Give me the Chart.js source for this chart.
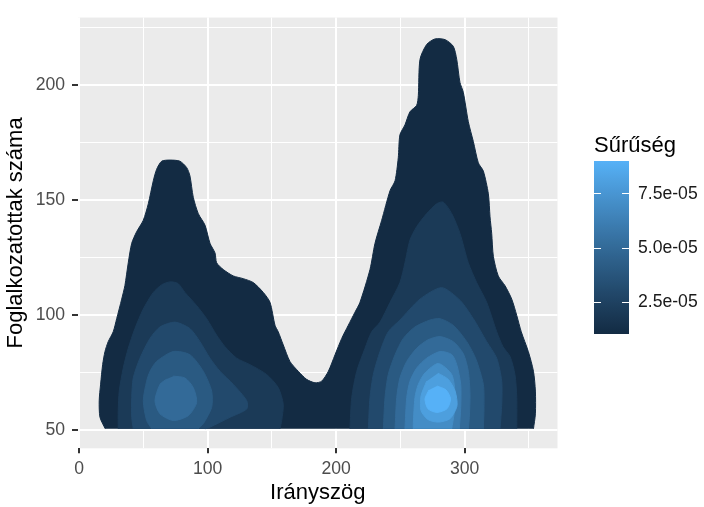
<!DOCTYPE html>
<html>
<head>
<meta charset="utf-8">
<script src="https://cdn.jsdelivr.net/npm/chart.js@4.4.1/dist/chart.umd.min.js"></script>
<style>
  html, body { margin: 0; padding: 0; background: #fff; }
</style>
</head>
<body>
<canvas id="densityChart" width="704" height="507"></canvas>
<script>
// density levels (contour breaks) and colour bar breaks
const densityLevels = [1e-5, 2e-5, 3e-5, 4e-5, 5e-5, 6e-5, 7e-5, 8e-5, 9e-5];
const legendBreaks = [2.5e-5, 5.0e-5, 7.5e-5];
const legendLabels = ['2.5e-05', '5.0e-05', '7.5e-05'];

// axis ticks
const xMajor = [0, 100, 200, 300];
const xMinor = [50, 150, 250, 350];
const yMajor = [50, 100, 150, 200];
const yMinor = [75, 125, 175, 225];
const xRange = [-0.9, 372.2];
const yRange = [41.9, 229.3];

// contour polygons [x, y], one per band piece
const level1Outer = [[20.3,50.4],[16.2,55.4],[15.6,62.6],[16.7,69.8],[18.3,78.4],[20.1,84.0],[22.6,88.3],[26.5,92.6],[29.2,98.3],[33.1,106.8],[35.6,112.7],[38.2,122.6],[40.9,131.1],[44.7,136.1],[49.9,141.1],[53.8,148.3],[57.7,158.3],[60.3,163.3],[64.2,166.8],[70.7,167.3],[78.4,166.8],[83.7,164.0],[86.2,160.4],[88.8,151.1],[92.7,144.0],[97.9,139.0],[101.8,131.1],[105.7,126.9],[107.0,122.6],[112.1,119.7],[119.9,116.9],[127.7,115.7],[135.5,114.0],[143.3,109.7],[148.5,105.4],[152.4,95.4],[154.9,92.6],[158.8,86.9],[164.0,79.7],[170.5,75.4],[177.0,71.9],[183.5,70.4],[188.7,71.1],[193.9,75.4],[199.1,82.6],[204.3,89.7],[209.4,95.4],[214.6,101.1],[218.5,105.4],[226.3,119.7],[230.2,131.1],[235.4,141.1],[241.9,154.0],[245.8,158.3],[248.3,168.3],[249.6,178.3],[253.5,182.6],[257.4,188.3],[262.6,191.1],[263.9,195.4],[265.2,211.1],[270.4,217.6],[276.9,220.0],[284.7,219.7],[291.1,216.8],[293.8,211.1],[296.3,201.1],[298.9,196.8],[302.8,184.0],[306.7,175.4],[310.6,166.1],[314.5,162.5],[318.4,152.6],[319.7,142.6],[321.0,135.4],[322.3,125.4],[326.1,116.9],[331.4,112.6],[336.6,106.8],[340.5,99.7],[344.0,92.6],[349.5,84.0],[353.5,75.4],[355.0,66.8],[355.0,56.9],[353.5,50.4]];
const level2Left = [[30.4,50.4],[30.4,58.3],[31.2,66.8],[34.3,76.8],[38.2,85.4],[43.4,94.0],[49.9,102.5],[57.7,109.7],[64.4,113.1],[70.7,114.3],[76.9,113.6],[82.3,109.7],[91.4,104.0],[99.2,98.3],[107.0,91.1],[113.5,86.1],[122.6,81.1],[132.9,78.3],[145.9,74.0],[154.9,68.3],[158.8,61.1],[157.6,54.0],[156.3,50.4]];
const level2Right = [[210.7,50.4],[212.1,64.0],[216.0,75.4],[222.4,85.4],[227.6,92.6],[234.1,96.8],[241.9,105.4],[249.6,114.0],[253.5,122.6],[257.4,132.5],[262.6,138.3],[270.4,144.0],[278.2,148.3],[283.3,149.0],[289.9,144.0],[296.3,135.4],[302.8,122.6],[309.3,114.0],[317.1,105.4],[324.9,92.6],[329.8,86.1],[335.3,81.8],[339.1,74.0],[340.5,64.0],[340.5,50.4]];
const level3Left = [[42.1,50.4],[40.9,55.4],[40.9,64.0],[42.1,72.5],[47.3,81.1],[55.1,89.7],[62.9,94.7],[74.6,96.8],[86.2,94.0],[94.0,88.3],[101.8,81.1],[109.6,75.4],[119.9,69.7],[130.4,62.6],[130.4,59.0],[117.4,55.4],[101.8,51.1],[97.9,50.4]];
const level3Right = [[225.0,50.4],[226.3,64.0],[228.9,74.0],[234.1,84.0],[240.5,92.6],[249.6,97.7],[265.2,106.8],[282.1,111.8],[296.3,106.3],[306.7,98.3],[317.1,88.3],[324.9,81.1],[328.8,71.1],[328.8,61.1],[327.5,50.4]];
const level4Left = [[56.4,50.4],[52.5,54.0],[49.9,62.6],[52.5,71.1],[55.1,75.4],[60.3,79.7],[73.2,84.0],[86.2,82.6],[96.6,75.4],[103.1,66.8],[103.1,59.7],[96.6,52.6],[92.5,50.4]];
const level4Right = [[236.7,50.4],[238.0,64.0],[240.5,74.0],[245.8,82.6],[252.2,89.7],[261.3,94.7],[273.0,97.7],[280.8,98.3],[291.1,95.4],[301.6,88.3],[308.8,80.6],[314.5,69.7],[315.0,59.7],[314.5,50.4]];
const level5Left = [[73.2,73.3],[82.3,72.5],[88.8,68.3],[91.4,61.8],[84.9,56.1],[73.2,54.0],[62.9,56.9],[59.0,62.6],[62.9,69.7],[68.1,72.0]];
const level5Right = [[245.8,50.4],[247.1,64.0],[249.6,72.5],[254.9,79.7],[262.6,85.4],[271.4,89.1],[280.8,90.5],[291.1,88.3],[298.9,83.1],[302.8,75.4],[304.1,65.4],[303.6,55.4],[302.8,50.4]];
const level6Right = [[253.5,50.4],[254.9,64.0],[257.4,71.1],[262.6,76.8],[270.4,81.1],[280.8,84.0],[289.9,82.7],[293.8,78.3],[296.9,69.7],[296.9,59.7],[295.8,50.4]];
const level7Right = [[260.0,50.4],[260.0,52.6],[261.3,64.0],[263.9,69.7],[269.1,74.7],[279.5,78.8],[289.9,74.0],[292.5,65.4],[291.7,56.9],[289.9,50.4]];
const level8Right = [[279.2,74.6],[287.2,71.9],[292.5,66.8],[294.0,60.4],[288.6,54.8],[279.5,53.3],[271.4,54.4],[266.0,58.3],[266.0,64.7],[270.4,71.1]];
const level9Right = [[278.4,69.0],[285.5,67.3],[289.0,63.4],[286.2,59.1],[278.4,57.5],[271.4,59.1],[269.1,63.4],[272.2,67.3]];

const pieces = [
    { level: 0, pts: level1Outer },
    { level: 1, pts: level2Left }, { level: 1, pts: level2Right },
    { level: 2, pts: level3Left }, { level: 2, pts: level3Right },
    { level: 3, pts: level4Left }, { level: 3, pts: level4Right },
    { level: 4, pts: level5Left }, { level: 4, pts: level5Right },
    { level: 5, pts: level6Right },
    { level: 6, pts: level7Right },
    { level: 7, pts: level8Right },
    { level: 8, pts: level9Right }
];

// ggplot-like gradient #132B43 -> #56B1F7 interpolated in Lab
const WHITE = [0.95047, 1.0, 1.08883];
const hexToRgb = h => [1, 3, 5].map(i => parseInt(h.substr(i, 2), 16) / 255);
const toLin = c => c <= 0.04045 ? c / 12.92 : Math.pow((c + 0.055) / 1.055, 2.4);
const fromLin = c => c <= 0.0031308 ? 12.92 * c : 1.055 * Math.pow(c, 1 / 2.4) - 0.055;
function rgbToLab(rgb) {
    const [r, g, b] = rgb.map(toLin);
    const x = (0.4124564 * r + 0.3575761 * g + 0.1804375 * b) / WHITE[0];
    const y = (0.2126729 * r + 0.7151522 * g + 0.0721750 * b) / WHITE[1];
    const z = (0.0193339 * r + 0.1191920 * g + 0.9503041 * b) / WHITE[2];
    const f = t => t > 216 / 24389 ? Math.cbrt(t) : (24389 / 27 * t + 16) / 116;
    const fx = f(x), fy = f(y), fz = f(z);
    return [116 * fy - 16, 500 * (fx - fy), 200 * (fy - fz)];
}
function labToRgb(lab) {
    const fy = (lab[0] + 16) / 116, fx = fy + lab[1] / 500, fz = fy - lab[2] / 200;
    const inv = t => t * t * t > 216 / 24389 ? t * t * t : (116 * t - 16) / (24389 / 27);
    const x = inv(fx) * WHITE[0], y = inv(fy) * WHITE[1], z = inv(fz) * WHITE[2];
    const r = 3.2404542 * x - 1.5371385 * y - 0.4985314 * z;
    const g = -0.9692660 * x + 1.8760108 * y + 0.0415560 * z;
    const b = 0.0556434 * x - 0.2040259 * y + 1.0572252 * z;
    return [r, g, b].map(c => Math.round(Math.min(1, Math.max(0, fromLin(c))) * 255));
}
const labLow = rgbToLab(hexToRgb('#132B43'));
const labHigh = rgbToLab(hexToRgb('#56B1F7'));
function gradColor(t) {
    const lab = labLow.map((v, i) => v + (labHigh[i] - v) * t);
    const [r, g, b] = labToRgb(lab);
    return `rgb(${r},${g},${b})`;
}
const levelColor = i => gradColor(i / (densityLevels.length - 1));

const FONT = "'Liberation Sans', Arial, sans-serif";

// grey panel behind the grid
const panelBg = {
    id: 'panelBg',
    beforeDraw(chart) {
        const { ctx, chartArea: a } = chart;
        ctx.save();
        ctx.fillStyle = '#EBEBEB';
        ctx.fillRect(a.left, a.top, a.right - a.left, a.bottom - a.top);
        ctx.restore();
    }
};

// continuous colour bar legend
const colorbar = {
    id: 'colorbar',
    afterDraw(chart) {
        const ctx = chart.ctx;
        const x0 = 594, x1 = 629, yTop = 161, yBot = 334;
        const lo = densityLevels[0], hi = densityLevels[densityLevels.length - 1];
        const grad = ctx.createLinearGradient(0, yBot, 0, yTop);
        const nStops = 40;
        for (let i = 0; i <= nStops; i++) grad.addColorStop(i / nStops, gradColor(i / nStops));
        ctx.save();
        ctx.fillStyle = grad;
        ctx.fillRect(x0, yTop, x1 - x0, yBot - yTop);
        ctx.strokeStyle = '#ffffff';
        ctx.lineWidth = 1;
        legendBreaks.forEach(b => {
            const y = Math.round(yBot - (b - lo) / (hi - lo) * (yBot - yTop)) + 0.5;
            ctx.beginPath();
            ctx.moveTo(x0, y); ctx.lineTo(x0 + 7, y);
            ctx.moveTo(x1 - 7, y); ctx.lineTo(x1, y);
            ctx.stroke();
        });
        ctx.restore();

        ctx.save();
        ctx.fillStyle = '#1a1a1a';
        ctx.font = `17.6px ${FONT}`;
        ctx.textBaseline = 'middle';
        ctx.textAlign = 'left';
        legendBreaks.forEach((b, i) => {
            const y = yBot - (b - lo) / (hi - lo) * (yBot - yTop);
            ctx.fillText(legendLabels[i], 638, y + 1);
        });
        ctx.fillStyle = '#000';
        ctx.font = `22px ${FONT}`;
        ctx.textBaseline = 'alphabetic';
        ctx.fillText('Sűrűség', 594, 152);
        ctx.restore();
    }
};

const datasets = pieces.map(p => ({
    data: p.pts.map(([x, y]) => ({ x, y })),
    showLine: true,
    fill: 'shape',
    tension: 0.25,
    pointRadius: 0,
    borderWidth: 1,
    borderColor: levelColor(p.level),
    backgroundColor: levelColor(p.level),
    order: densityLevels.length - p.level
}));

const isMajor = (axisMajor, v) => axisMajor.includes(v);

new Chart(document.getElementById('densityChart').getContext('2d'), {
    type: 'scatter',
    data: { datasets },
    options: {
        responsive: false,
        animation: false,
        layout: { padding: { top: 11, right: 146.5, bottom: 0, left: 0 } },
        plugins: { legend: { display: false }, tooltip: { enabled: false } },
        scales: {
            x: {
                type: 'linear', min: xRange[0], max: xRange[1],
                afterBuildTicks: s => { s.ticks = [...xMajor, ...xMinor].sort((a, b) => a - b).map(v => ({ value: v })); },
                afterFit: s => { s.height = 58.7; },
                border: { display: false },
                grid: {
                    color: '#ffffff',
                    lineWidth: c => isMajor(xMajor, c.tick.value) ? 2 : 1,
                    tickColor: c => isMajor(xMajor, c.tick.value) ? '#333333' : 'rgba(0,0,0,0)',
                    tickLength: 5,
                    tickWidth: 2
                },
                ticks: {
                    autoSkip: false, maxRotation: 0, padding: 5,
                    color: '#4D4D4D', font: { family: FONT, size: 17.6 },
                    callback: v => isMajor(xMajor, v) ? String(v) : ''
                },
                title: { display: true, text: 'Irányszög', color: '#000', font: { family: FONT, size: 22 }, padding: { top: 0, bottom: 1 } }
            },
            y: {
                type: 'linear', min: yRange[0], max: yRange[1],
                afterBuildTicks: s => { s.ticks = [...yMajor, ...yMinor].sort((a, b) => a - b).map(v => ({ value: v })); },
                afterFit: s => { s.width = 78; },
                border: { display: false },
                grid: {
                    color: '#ffffff',
                    lineWidth: c => isMajor(yMajor, c.tick.value) ? 2 : 1,
                    tickColor: c => isMajor(yMajor, c.tick.value) ? '#333333' : 'rgba(0,0,0,0)',
                    tickLength: 6,
                    tickWidth: 2
                },
                ticks: {
                    autoSkip: false, padding: 7,
                    color: '#4D4D4D', font: { family: FONT, size: 17.6 },
                    callback: v => isMajor(yMajor, v) ? String(v) : ''
                },
                title: { display: true, text: 'Foglalkozatottak száma', color: '#000', font: { family: FONT, size: 22 }, padding: { top: 3, bottom: 0 } }
            }
        }
    },
    plugins: [panelBg, colorbar]
});
</script>
</body>
</html>
